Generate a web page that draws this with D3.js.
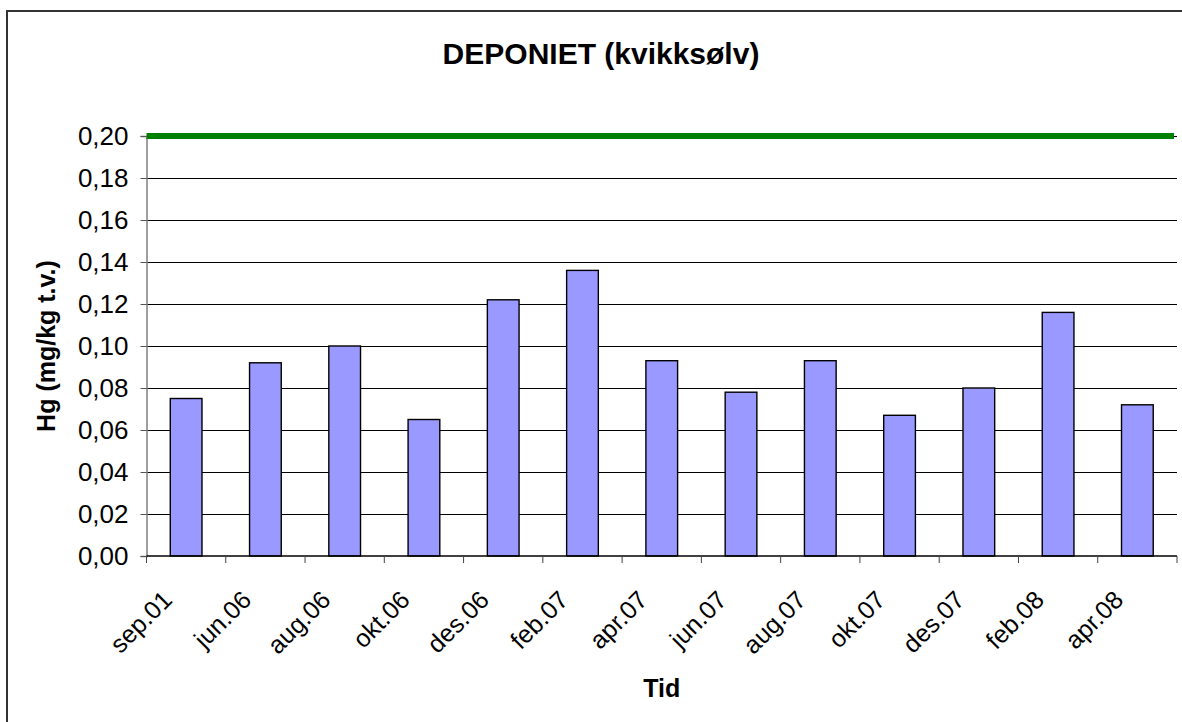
<!DOCTYPE html>
<html>
<head>
<meta charset="utf-8">
<script src="https://cdn.jsdelivr.net/npm/d3@7"></script>
<style>
  body { margin: 0; background: #fff; }
  text { font-family: "Liberation Sans", Arial, sans-serif; fill: #000; }
</style>
</head>
<body>
<svg id="chart" width="1182" height="722"></svg>
<script>
// data
var categories = ['sep.01', 'jun.06', 'aug.06', 'okt.06', 'des.06', 'feb.07', 'apr.07',
                  'jun.07', 'aug.07', 'okt.07', 'des.07', 'feb.08', 'apr.08'];
var hgValues = [0.075, 0.092, 0.100, 0.065, 0.122, 0.136, 0.093,
                0.078, 0.093, 0.067, 0.080, 0.116, 0.072];
var yTicks = [0, 0.02, 0.04, 0.06, 0.08, 0.10, 0.12, 0.14, 0.16, 0.18, 0.20];
var limitValue = 0.20;

var svg = d3.select('#chart');
var plot = { left: 146.5, right: 1177, top: 136, bottom: 556 };

// outer chart border (runs off the right/bottom edge in the reference)
svg.append('rect')
  .attr('x', 7).attr('y', 11)
  .attr('width', 1200).attr('height', 730)
  .attr('fill', '#fff')
  .attr('stroke', '#333').attr('stroke-width', 2);

var x = d3.scaleBand()
  .domain(categories)
  .range([plot.left, plot.right])
  .paddingInner(0.6)
  .paddingOuter(0.3);

var y = d3.scaleLinear()
  .domain([0, 0.20])
  .range([plot.bottom, plot.top]);

var fmt = function(d) { return d3.format('.2f')(d).replace('.', ','); };

// horizontal gridlines
svg.append('g')
  .selectAll('line')
  .data(yTicks.slice(1))
  .enter().append('line')
  .attr('x1', plot.left).attr('x2', plot.right)
  .attr('y1', function(d) { return Math.round(y(d)) + 0.5; })
  .attr('y2', function(d) { return Math.round(y(d)) + 0.5; })
  .attr('stroke', '#000').attr('stroke-width', 1);

// y axis
var yAxis = svg.append('g')
  .attr('transform', 'translate(' + plot.left + ',0)')
  .call(d3.axisLeft(y).tickValues(yTicks).tickFormat(fmt).tickSize(6).tickPadding(12));
yAxis.select('.domain').attr('stroke', '#808080').attr('stroke-width', 1.5);
yAxis.selectAll('.tick line').attr('stroke', '#555');
yAxis.selectAll('text')
  .style('font-size', '26px').attr('fill', '#000');

// bars
svg.append('g')
  .selectAll('rect')
  .data(hgValues)
  .enter().append('rect')
  .attr('x', function(d, i) { return x(categories[i]); })
  .attr('y', function(d) { return y(d); })
  .attr('width', x.bandwidth())
  .attr('height', function(d) { return y(0) - y(d); })
  .attr('fill', '#9999ff')
  .attr('stroke', '#000').attr('stroke-width', 1.4);

// x axis, ticks between categories
var step = x.step();
var xAxis = svg.append('g')
  .attr('transform', 'translate(0,' + plot.bottom + ')');
xAxis.append('line')
  .attr('x1', plot.left).attr('x2', plot.right)
  .attr('stroke', '#000').attr('stroke-width', 1.5);
xAxis.selectAll('line.tick')
  .data(d3.range(categories.length + 1))
  .enter().append('line')
  .attr('class', 'tick')
  .attr('x1', function(i) { return plot.left + i * step; })
  .attr('x2', function(i) { return plot.left + i * step; })
  .attr('y1', 0).attr('y2', 7)
  .attr('stroke', '#444');
xAxis.selectAll('text')
  .data(categories)
  .enter().append('text')
  .attr('transform', function(d) {
    return 'translate(' + (x(d) + x.bandwidth() / 2 - 25) + ',' + 33 + ') rotate(-45)';
  })
  .attr('text-anchor', 'end')
  .attr('dy', '0.7em')
  .style('font-size', '25px')
  .text(function(d) { return d; });

// limit line at 0.20
svg.append('line')
  .attr('x1', plot.left).attr('x2', plot.right - 3)
  .attr('y1', y(limitValue)).attr('y2', y(limitValue))
  .attr('stroke', '#008000').attr('stroke-width', 6);

// titles
svg.append('text')
  .attr('x', 601).attr('y', 64)
  .attr('text-anchor', 'middle')
  .style('font-size', '30px').style('font-weight', 'bold')
  .text('DEPONIET (kvikksølv)');

svg.append('text')
  .attr('transform', 'translate(55,' + ((plot.top + plot.bottom) / 2) + ') rotate(-90)')
  .attr('text-anchor', 'middle')
  .style('font-size', '25px').style('font-weight', 'bold')
  .text('Hg (mg/kg t.v.)');

svg.append('text')
  .attr('x', (plot.left + plot.right) / 2).attr('y', 697)
  .attr('text-anchor', 'middle')
  .style('font-size', '25px').style('font-weight', 'bold')
  .text('Tid');
</script>
</body>
</html>
